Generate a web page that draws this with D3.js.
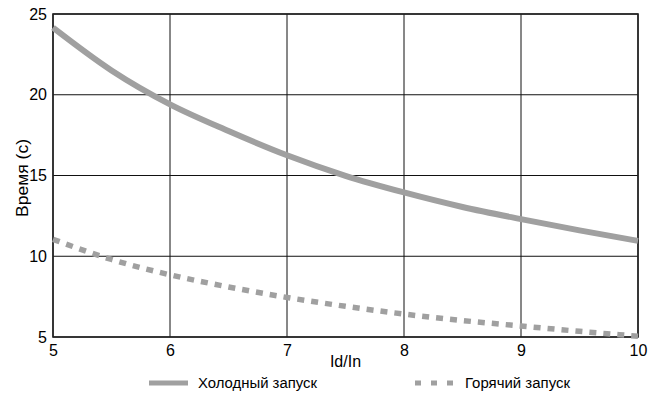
<!DOCTYPE html>
<html>
<head>
<meta charset="utf-8">
<script src="https://cdn.jsdelivr.net/npm/d3@7"></script>
<style>
  body { margin: 0; background: #fff; }
  #chart { width: 661px; height: 401px; }
  text { font-family: "Liberation Sans", Arial, sans-serif; fill: #000; }
</style>
</head>
<body>
<div id="chart"></div>
<script>
// values
const ratio = [5, 5.5, 6, 6.5, 7, 7.5, 8, 8.5, 9, 9.5, 10];
const coldStart = [24.15, 21.5, 19.4, 17.75, 16.25, 14.98, 13.95, 13.05, 12.3, 11.6, 10.95];
const hotStart = [11.05, 9.8, 8.85, 8.1, 7.45, 6.9, 6.42, 6.02, 5.68, 5.35, 5.05];
const xTicks = [5, 6, 7, 8, 9, 10];
const yTicks = [5, 10, 15, 20, 25];
const seriesNames = ["Холодный запуск", "Горячий запуск"];

const margin = { top: 14, right: 23, bottom: 64, left: 53 },
    width = 661 - margin.left - margin.right,
    height = 401 - margin.top - margin.bottom;

const svg = d3.select("#chart")
    .append("svg")
    .attr("width", 661)
    .attr("height", 401)
    .append("g")
    .attr("transform", `translate(${margin.left},${margin.top})`);

const x = d3.scaleLinear().domain([5, 10]).range([0, width]);
const y = d3.scaleLinear().domain([5, 25]).range([height, 0]);

// grid
svg.append("g")
    .selectAll("line")
    .data(xTicks)
    .enter().append("line")
    .attr("x1", d => x(d)).attr("x2", d => x(d))
    .attr("y1", 0).attr("y2", height)
    .attr("stroke", "#111").attr("stroke-width", 1);

svg.append("g")
    .selectAll("line")
    .data(yTicks)
    .enter().append("line")
    .attr("x1", 0).attr("x2", width)
    .attr("y1", d => y(d)).attr("y2", d => y(d))
    .attr("stroke", "#111").attr("stroke-width", 1);

svg.append("rect")
    .attr("width", width).attr("height", height)
    .attr("fill", "none")
    .attr("stroke", "#222")
    .attr("stroke-width", 1.6);

// axes labels (no tick marks)
const xAxis = svg.append("g")
    .attr("transform", `translate(0,${height})`)
    .call(d3.axisBottom(x).tickValues(xTicks).tickFormat(d3.format("d")).tickSize(0).tickPadding(8));
xAxis.select(".domain").remove();
xAxis.selectAll("text")
    .style("font-size", "16px")
    .style("font-family", "Liberation Sans, Arial, sans-serif")
    .attr("fill", "#000");

const yAxis = svg.append("g")
    .call(d3.axisLeft(y).tickValues(yTicks).tickFormat(d3.format("d")).tickSize(0).tickPadding(6));
yAxis.select(".domain").remove();
yAxis.selectAll("text")
    .style("font-size", "16px")
    .style("font-family", "Liberation Sans, Arial, sans-serif")
    .attr("fill", "#000");

svg.append("text")
    .attr("x", width / 2)
    .attr("y", height + 30)
    .attr("text-anchor", "middle")
    .style("font-size", "16px")
    .text("Id/In");

svg.append("text")
    .attr("transform", "rotate(-90)")
    .attr("x", -(178 - margin.top))
    .attr("y", 28 - margin.left)
    .attr("text-anchor", "middle")
    .style("font-size", "16px")
    .attr("textLength", 78)
    .attr("lengthAdjust", "spacingAndGlyphs")
    .text("Время (с)");

// curves
const line = d3.line()
    .x(d => x(d[0]))
    .y(d => y(d[1]))
    .curve(d3.curveMonotoneX);

svg.append("path")
    .datum(d3.zip(ratio, coldStart))
    .attr("fill", "none")
    .attr("stroke", "#a0a0a0")
    .attr("stroke-width", 6)
    .attr("d", line);

svg.append("path")
    .datum(d3.zip(ratio, hotStart))
    .attr("fill", "none")
    .attr("stroke", "#a0a0a0")
    .attr("stroke-width", 5.5)
    .attr("stroke-dasharray", "7,7")
    .attr("d", line);

// legend
const legend = svg.append("g")
    .attr("transform", `translate(${-margin.left},${height})`);

legend.append("line")
    .attr("x1", 149).attr("x2", 188)
    .attr("y1", 46).attr("y2", 46)
    .attr("stroke", "#a0a0a0").attr("stroke-width", 5);
legend.append("text")
    .attr("x", 198).attr("y", 51)
    .style("font-size", "14px")
    .attr("textLength", 119)
    .attr("lengthAdjust", "spacingAndGlyphs")
    .text(seriesNames[0]);

legend.append("line")
    .attr("x1", 415).attr("x2", 453)
    .attr("y1", 46).attr("y2", 46)
    .attr("stroke", "#a0a0a0").attr("stroke-width", 5)
    .attr("stroke-dasharray", "6,10");
legend.append("text")
    .attr("x", 465).attr("y", 51)
    .style("font-size", "14px")
    .attr("textLength", 105)
    .attr("lengthAdjust", "spacingAndGlyphs")
    .text(seriesNames[1]);
</script>
</body>
</html>
